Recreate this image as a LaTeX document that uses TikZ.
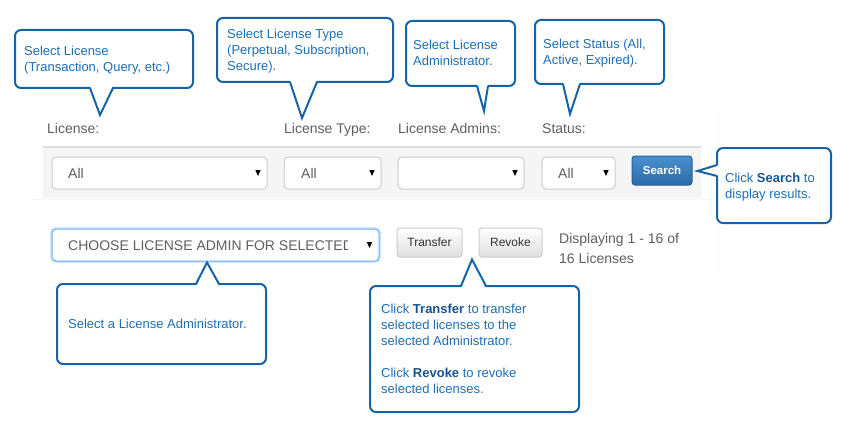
\documentclass[tikz,border=0pt]{standalone}
\usepackage{fontspec}
\setmainfont{Liberation Sans}
\usetikzlibrary{calc}
\definecolor{cborder}{RGB}{22,100,166}
\definecolor{ctext}{RGB}{30,110,180}
\definecolor{cbold}{RGB}{24,84,144}
\definecolor{lbl}{RGB}{95,95,95}
\definecolor{selborder}{RGB}{204,204,204}
\definecolor{barfill}{RGB}{245,245,245}
\definecolor{barline}{RGB}{221,221,221}
\definecolor{faint}{RGB}{246,246,246}
\definecolor{focus}{RGB}{102,175,233}
\definecolor{btnbot}{RGB}{224,224,224}
\definecolor{btntxt}{RGB}{51,51,51}
\definecolor{srchtop}{RGB}{74,144,207}
\definecolor{srchbot}{RGB}{42,106,166}
\definecolor{srchborder}{RGB}{40,96,150}
\newcommand{\tstrut}{\rule{0pt}{12pt}}
\newcommand{\seltri}[2]{\fill[black] (#1-2.7,#2-3) -- (#1+2.7,#2-3) -- (#1,#2+3) -- cycle;}
% pointers: node, x/y left, x/y right, tip
\newcommand{\ptrdown}[4]{%
  \fill[white] ($(#1.south -| #2,0)+(0,-2.5)$) -- (#4) -- ($(#1.south -| #3,0)+(0,-2.5)$) -- cycle;
  \draw[cline] (#1.south -| #2,0) -- (#4) -- (#1.south -| #3,0);}
\newcommand{\ptrup}[4]{%
  \fill[white] ($(#1.north -| #2,0)+(0,2.5)$) -- (#4) -- ($(#1.north -| #3,0)+(0,2.5)$) -- cycle;
  \draw[cline] (#1.north -| #2,0) -- (#4) -- (#1.north -| #3,0);}
\newcommand{\ptrleft}[4]{%
  \fill[white] ($(#1.west |- 0,#2)+(2.5,0)$) -- (#4) -- ($(#1.west |- 0,#3)+(2.5,0)$) -- cycle;
  \draw[cline] (#1.west |- 0,#2) -- (#4) -- (#1.west |- 0,#3);}
\tikzset{
  cbox/.style={draw=cborder, line width=2pt, rounded corners=6pt, fill=white,
    inner sep=0pt, outer sep=0pt, anchor=north west},
  cline/.style={draw=cborder, line width=2pt, line join=miter},
  ctxt/.style={text=ctext, font=\fontsize{13}{16}\selectfont, align=left,
    inner sep=0pt, anchor=north west},
  lbltxt/.style={text=lbl, font=\fontsize{14}{20}\selectfont, inner sep=0pt, anchor=base west},
  selbox/.style={draw=selborder, line width=1pt, rounded corners=4pt, fill=white,
    inner sep=0pt, outer sep=0pt, anchor=north west},
  btn/.style={draw=selborder, line width=1pt, rounded corners=3pt, top color=white,
    bottom color=btnbot, inner sep=0pt, outer sep=0pt, anchor=north west,
    text=btntxt, font=\fontsize{12}{14}\selectfont},
  srch/.style={draw=srchborder, line width=1pt, rounded corners=3pt, top color=srchtop,
    bottom color=srchbot, inner sep=0pt, outer sep=0pt, anchor=north west,
    text=white, font=\fontsize{11.5}{14}\bfseries}
}
\newcommand{\hb}[1]{\textcolor{cbold}{\textbf{#1}}}
\begin{document}
\begin{tikzpicture}[x=1pt,y=-1pt]
\useasboundingbox[fill=white] (0,0) rectangle (851,433);
% faint page guides
\draw[faint, line width=1pt] (718,113) -- (718,272);
\draw[faint, line width=1pt] (33,199.5) -- (717,199.5);
% filter bar
\node[fill=barfill, inner sep=0pt, outer sep=0pt, anchor=north west,
  minimum width=658, minimum height=51, rounded corners=2pt] (bar) at (43,147) {};
\draw[barline, line width=1pt] (bar.north west) -- (bar.north east);

% labels
\node[lbltxt] (lLic) at (47,134) {License:};
\node[lbltxt] (lType) at (284,134) {License Type:};
\node[lbltxt] (lAdm) at (398,134) {License Admins:};
\node[lbltxt] (lStat) at (542,134) {Status:};

% selects
\node[selbox, minimum width=215, minimum height=32] (s1) at (52,157) {};
\node[lbltxt] (s1t) at (68,178) {All};
\seltri{258}{173}
\node[selbox, minimum width=97, minimum height=32] (s2) at (284,157) {};
\node[lbltxt] (s2t) at (301,178) {All};
\seltri{372}{173}
\node[selbox, minimum width=126, minimum height=32] (s3) at (398,157) {};
\seltri{515}{173}
\node[selbox, minimum width=73, minimum height=32] (s4) at (542,157) {};
\node[lbltxt] (s4t) at (558,178) {All};
\seltri{606}{173}
\node[srch, minimum width=60, minimum height=29] (bSearch) at (632,156) {Search};

% admin select (focused)
\draw[focus!30, line width=4pt, rounded corners=4pt] (52,229) rectangle (379,261);
\node[selbox, draw=focus, minimum width=327, minimum height=32] (sAdm) at (52,229) {};
\begin{scope}
  \clip (60,229) rectangle (347.5,261);
  \node[lbltxt] (sAdmt) at (68,250) {CHOOSE LICENSE ADMIN FOR SELECTED};
\end{scope}
\seltri{369.5}{245}

% buttons
\node[btn, minimum width=65, minimum height=29] (bTr) at (397,228) {Transfer};
\node[btn, minimum width=63, minimum height=29] (bRv) at (479,228) {Revoke};
\node[lbltxt, align=left, anchor=north west] (disp) at (559,229)
  {\rule{0pt}{14pt}Displaying 1 - 16 of\\16 Licenses};

% callouts
\node[cbox, minimum width=178, minimum height=58] (c1) at (15,30) {};
\ptrdown{c1}{90}{113}{100,115}
\node[ctxt] (c1t) at (24,43) {\tstrut Select License\\(Transaction, Query, etc.)};

\node[cbox, minimum width=176, minimum height=64] (c2) at (217,18) {};
\ptrdown{c2}{290}{317}{302,118}
\node[ctxt] (c2t) at (227,26) {\tstrut Select License Type\\(Perpetual, Subscription,\\Secure).};

\node[cbox, minimum width=109, minimum height=65] (c3) at (406,21) {};
\ptrdown{c3}{477}{488}{484,111}
\node[ctxt] (c3t) at (413,37) {\tstrut Select License\\Administrator.};

\node[cbox, minimum width=129, minimum height=64] (c4) at (535,20) {};
\ptrdown{c4}{563}{580}{570,114}
\node[ctxt] (c4t) at (543,36) {\tstrut Select Status (All,\\Active, Expired).};

\node[cbox, minimum width=114, minimum height=75] (cs) at (717,148) {};
\ptrleft{cs}{165}{176}{$(bSearch.east)+(5.5,0.5)$}
\node[ctxt] (cst) at (725,170) {\tstrut Click \hb{Search} to\\display results.};

\node[cbox, minimum width=209, minimum height=80] (c5) at (57,284) {};
\ptrup{c5}{196}{219}{207,262.5}
\node[ctxt] (c5t) at (68,316) {\tstrut Select a License Administrator.};

\node[cbox, minimum width=209, minimum height=126] (c6) at (370,286) {};
\ptrup{c6}{461}{486}{472,259.5}
\node[ctxt] (c6t) at (381,301) {\tstrut Click \hb{Transfer} to transfer\\selected licenses to the\\selected Administrator.\\[16pt]Click \hb{Revoke} to revoke\\selected licenses.};
\end{tikzpicture}
\end{document}
